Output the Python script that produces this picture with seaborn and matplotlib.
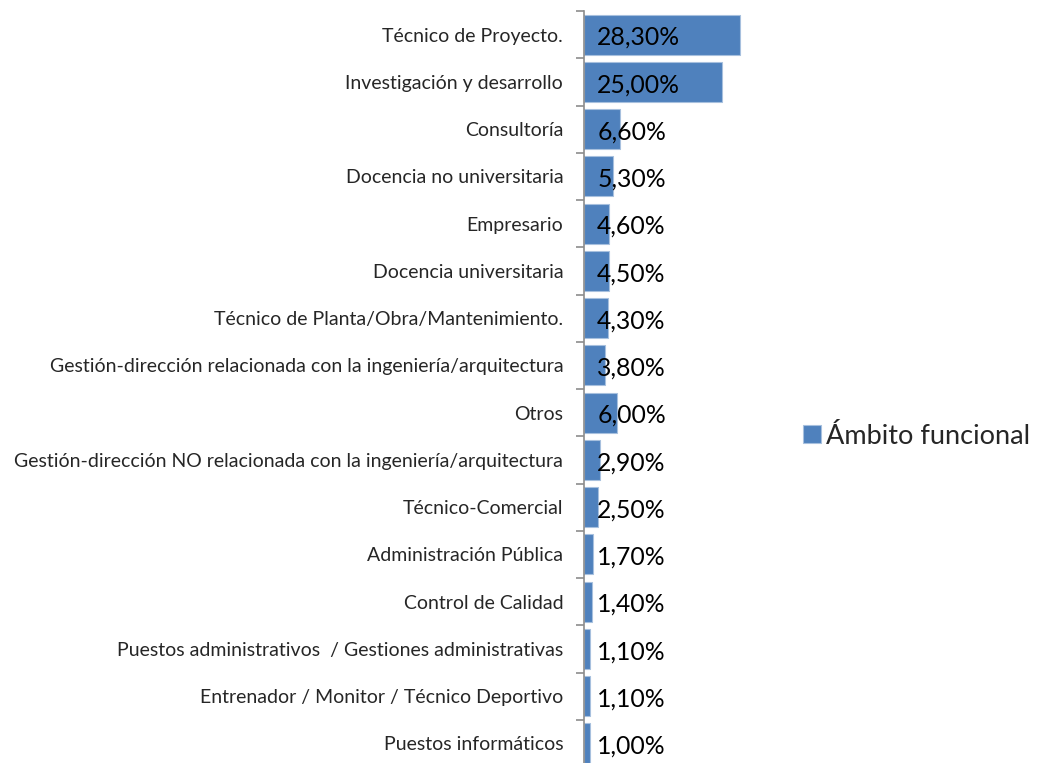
import matplotlib
matplotlib.use("Agg")
import matplotlib.pyplot as plt
import seaborn as sns
import pandas as pd
import numpy as np

categories = [
    "Técnico de Proyecto.",
    "Investigación y desarrollo",
    "Consultoría",
    "Docencia no universitaria",
    "Empresario",
    "Docencia universitaria",
    "Técnico de Planta/Obra/Mantenimiento.",
    "Gestión-dirección relacionada con la ingeniería/arquitectura",
    "Otros",
    "Gestión-dirección NO relacionada con la ingeniería/arquitectura",
    "Técnico-Comercial",
    "Administración Pública",
    "Control de Calidad",
    "Puestos administrativos  / Gestiones administrativas",
    "Entrenador / Monitor / Técnico Deportivo",
    "Puestos informáticos",
]
values = [28.3, 25.0, 6.6, 5.3, 4.6, 4.5, 4.3, 3.8, 6.0, 2.9, 2.5, 1.7, 1.4, 1.1, 1.1, 1.0]
value_labels = ["28,30%", "25,00%", "6,60%", "5,30%", "4,60%", "4,50%", "4,30%", "3,80%",
                "6,00%", "2,90%", "2,50%", "1,70%", "1,40%", "1,10%", "1,10%", "1,00%"]
series_name = "Ámbito funcional"

sns.set_style("white")
plt.rcParams['font.family'] = ['Lato', 'DejaVu Sans']

df = pd.DataFrame({"cat": categories, "val": values, "serie": series_name})

fig = plt.figure(figsize=(10.38, 7.63), dpi=100)
ax = fig.add_axes([584/1038, -4/763, 220/1038, 756/763])

sns.barplot(data=df, y="cat", x="val", hue="serie", order=categories, orient="h",
            palette=["#4F81BD"], saturation=1, width=0.85, edgecolor="#A7C0DE", linewidth=0.8,
            ax=ax, legend=True)

ax.set_xlim(0, 40)
n = len(categories)
ax.set_ylim(n - 0.5, -0.5)
ax.set_xlabel("")
ax.set_ylabel("")
ax.set_xticks([])
for s in ["top", "right", "bottom"]:
    ax.spines[s].set_visible(False)
ax.spines["left"].set_color("#8C8C8C")
ax.spines["left"].set_linewidth(1.2)

ax.set_yticks(range(n))
ax.set_yticklabels(categories, fontsize=14)
ax.tick_params(axis="y", which="major", left=True, length=0, pad=15)
ax.set_yticks(np.arange(-0.5, n, 1.0), minor=True)
ax.tick_params(axis="y", which="minor", left=True, length=6, color="#8C8C8C", width=1.2)

for i, lab in enumerate(value_labels):
    ax.text(2.4, i + 0.06, lab, fontsize=17.8, va="center", ha="left", color="black")

leg = ax.legend(loc="center left", bbox_to_anchor=(803/1038, 1 - 436/763),
                bbox_transform=fig.transFigure, frameon=False, fontsize=19.5,
                handlelength=0.65, handleheight=0.65, handletextpad=0.2, borderpad=0,
                borderaxespad=0)

fig.savefig("out.png", dpi=100)
